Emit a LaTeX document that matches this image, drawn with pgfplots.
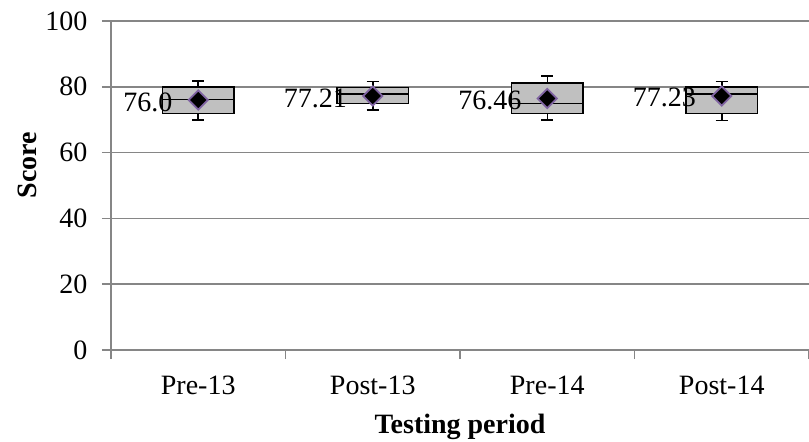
\documentclass[border=0pt]{standalone}
\usepackage{fontspec}
\setmainfont{Liberation Serif}
\usepackage{pgfplots}
\pgfplotsset{compat=1.18}
\definecolor{gridgray}{RGB}{134,134,134}
\definecolor{boxgray}{RGB}{192,192,192}
\definecolor{mkpurple}{RGB}{128,100,162}
\begin{document}
\begin{tikzpicture}[font=\fontsize{14}{16}\selectfont]
\begin{axis}[
  at={(0,0)}, anchor=south west,
  scale only axis, width=349pt, height=164.5pt,
  xmin=0.5, xmax=4.5, ymin=0, ymax=100,
  axis x line*=bottom, axis y line*=left,
  ytick={0,20,40,60,80,100},
  ymajorgrids,
  major grid style={gridgray, line width=0.75pt},
  axis line style={gridgray, line width=0.75pt},
  tick style={gridgray, line width=0.75pt},
  tick align=outside, major tick length=4.5pt,
  xtick={0.5,1.5,2.5,3.5,4.5},
  xticklabels={Pre-13,Post-13,Pre-14,Post-14},
  x tick label as interval,
  /pgf/number format/assume math mode=true,
  yticklabel style={font=\fontsize{14}{16}\selectfont, xshift=-3.8pt},
  xticklabel style={font=\fontsize{14}{16}\selectfont, yshift=-5pt},
  xlabel={Testing period},
  ylabel={Score},
  xlabel style={font=\fontsize{14}{16}\selectfont\bfseries, at={(axis description cs:0.5,0)}, anchor=center, yshift=-38.4pt},
  ylabel style={font=\fontsize{14}{16}\selectfont\bfseries, at={(axis description cs:-0.1192,0.562)}, anchor=center},
  clip=false,
]
% Pre-13
\addplot[draw=black, fill=boxgray, line width=0.75pt] coordinates {(0.795,71.9) (1.205,71.9) (1.205,80.0) (0.795,80.0)} -- cycle;
\addplot[black, line width=0.75pt] coordinates {(0.795,76.2) (1.205,76.2)};
\addplot[black, line width=0.75pt] coordinates {(1,80.0) (1,81.8)};
\addplot[black, line width=0.75pt] coordinates {(0.965,81.8) (1.035,81.8)};
\addplot[black, line width=0.75pt] coordinates {(1,71.9) (1,69.9)};
\addplot[black, line width=0.75pt] coordinates {(0.965,69.9) (1.035,69.9)};
% Post-13
\addplot[draw=black, fill=boxgray, line width=0.75pt] coordinates {(1.795,75.0) (2.205,75.0) (2.205,79.8) (1.795,79.8)} -- cycle;
\addplot[black, line width=0.75pt] coordinates {(1.795,77.8) (2.205,77.8)};
\addplot[black, line width=0.75pt] coordinates {(2,79.8) (2,81.6)};
\addplot[black, line width=0.75pt] coordinates {(1.965,81.6) (2.035,81.6)};
\addplot[black, line width=0.75pt] coordinates {(2,75.0) (2,72.9)};
\addplot[black, line width=0.75pt] coordinates {(1.965,72.9) (2.035,72.9)};
% Pre-14
\addplot[draw=black, fill=boxgray, line width=0.75pt] coordinates {(2.795,71.9) (3.205,71.9) (3.205,81.2) (2.795,81.2)} -- cycle;
\addplot[black, line width=0.75pt] coordinates {(2.795,75.0) (3.205,75.0)};
\addplot[black, line width=0.75pt] coordinates {(3,81.2) (3,83.3)};
\addplot[black, line width=0.75pt] coordinates {(2.965,83.3) (3.035,83.3)};
\addplot[black, line width=0.75pt] coordinates {(3,71.9) (3,69.9)};
\addplot[black, line width=0.75pt] coordinates {(2.965,69.9) (3.035,69.9)};
% Post-14
\addplot[draw=black, fill=boxgray, line width=0.75pt] coordinates {(3.795,71.9) (4.205,71.9) (4.205,80.0) (3.795,80.0)} -- cycle;
\addplot[black, line width=0.75pt] coordinates {(3.795,77.8) (4.205,77.8)};
\addplot[black, line width=0.75pt] coordinates {(4,80.0) (4,81.6)};
\addplot[black, line width=0.75pt] coordinates {(3.965,81.6) (4.035,81.6)};
\addplot[black, line width=0.75pt] coordinates {(4,71.9) (4,69.7)};
\addplot[black, line width=0.75pt] coordinates {(3.965,69.7) (4.035,69.7)};
% means
\addplot[only marks, mark=square*, mark size=3.4pt,
  mark options={rotate=45, fill=black, draw=mkpurple, line width=0.9pt},
  point meta=explicit symbolic,
  nodes near coords,
  nodes near coords style={anchor=east, xshift=-12.5pt, yshift=-1pt, text=black, font=\fontsize{14}{16}\selectfont, inner sep=0pt}]
  coordinates {(1,76.0) [76.0] (2,77.21) [77.21] (3,76.46) [76.46] (4,77.23) [77.23]};
\end{axis}
\pgfresetboundingbox
\useasboundingbox (-55.5pt,-45.5pt) rectangle (349pt,175pt);
\end{tikzpicture}
\end{document}
